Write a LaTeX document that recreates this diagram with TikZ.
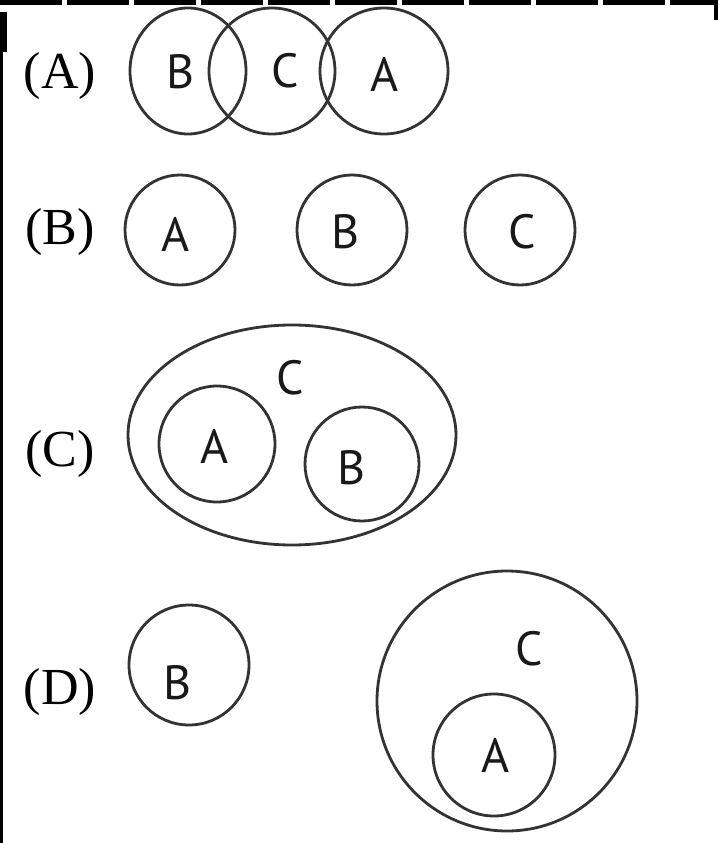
\documentclass[tikz,border=0pt]{standalone}
\usepackage{fontspec}
\setmainfont{Liberation Serif}
\newfontfamily\setfont{PT Sans}
\usetikzlibrary{positioning}

\begin{document}
\begin{tikzpicture}[x=1pt, y=-1pt,
  ring/.style={draw=black!80, line width=2.8pt},
  tag/.style={font=\fontsize{52}{52}\selectfont, inner sep=0pt},
  setname/.style={font=\setfont\fontsize{48}{48}\selectfont, text=black!90, inner sep=0pt}]
\useasboundingbox (0,0) rectangle (718,843);
\fill[white] (0,0) rectangle (718,843);

% scan edges
\draw[line width=5pt, dash pattern=on 62pt off 5pt] (0,2.5) -- (718,2.5);
\fill (0,12) rectangle (7,52);
\fill (0,52) rectangle (3,843);
\fill (714,0) rectangle (718,20);

% (A) chain of three
\path
(60,76)   node[tag] (tagA) {(A)}
(181,72)  node[setname] (aB) {B}
(285,71)  node[setname] (aC) {C}
(385,74)  node[setname] (aA) {A};
\draw[ring] (188,71) ellipse (58 and 63);
\draw[ring] (272,71) ellipse (63 and 63);
\draw[ring] (384,71) ellipse (64 and 63);

% (B) apart
\path
(60,232)  node[tag] (tagB) {(B)}
(176,234) node[setname] (bA) {A}
(346,232) node[setname] (bB) {B}
(522,232) node[setname] (bC) {C};
\draw[ring] (180,230) circle (55);
\draw[ring] (352,230) circle (55);
\draw[ring] (520,230) circle (55);

% (C) both inside
\path
(60,454)  node[tag] (tagC) {(C)}
(290,378) node[setname] (cC) {C}
(215,446) node[setname] (cA) {A}
(352,468) node[setname] (cB) {B};
\draw[ring] (292,435) ellipse (164 and 110);
\draw[ring] (217,444) circle (58);
\draw[ring] (362,464) circle (57);

% (D) one inside, one apart
\path
(60,692)  node[tag] (tagD) {(D)}
(178,683) node[setname] (dB) {B}
(529,649) node[setname] (dC) {C}
(496,755) node[setname] (dA) {A};
\draw[ring] (189,665) circle (60);
\draw[ring] (507,701) circle (130);
\draw[ring] (494,755) circle (61);
\end{tikzpicture}
\end{document}
